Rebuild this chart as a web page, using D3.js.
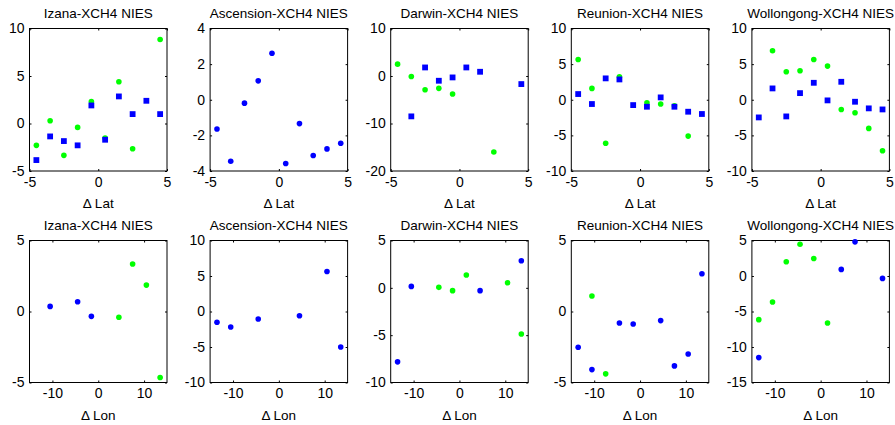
<!DOCTYPE html>
<html>
<head>
<meta charset="utf-8">
<script src="https://cdn.jsdelivr.net/npm/d3@7"></script>
<style>
  body { margin: 0; background: #fff; }
  svg { display: block; font-family: "Liberation Sans", Arial, sans-serif; }
</style>
</head>
<body>
<svg id="chart" width="895" height="425"></svg>
<script>
// grid positions of the cells
const latX = [-4.5, -3.5, -2.5, -1.5, -0.5, 0.5, 1.5, 2.5, 3.5, 4.5]
const lonX = [-13.5, -10.5, -7.5, -4.5, -1.5, 1.5, 4.5, 7.5, 10.5, 13.5]

const sites = ["Izana", "Ascension", "Darwin", "Reunion", "Wollongong"]

// top row: vs latitude
const izanaLatBlue = [-3.85, -1.36, -1.85, -2.30, 1.90, -1.71, 2.85, 0.99, 2.39, 0.99]
const izanaLatGreen = [-2.30, 0.29, -3.35, -0.41, 2.32, -1.53, 4.39, -2.65, null, 8.84]
const ascensionLatBlue = [-1.64, -3.45, -0.19, 1.06, 2.61, -3.58, -1.34, -3.13, -2.76, -2.44]
const ascensionLatGreen = [null, null, null, null, null, null, null, null, null, null]
const darwinLatBlue = [null, -8.5, 1.8, -1.0, -0.3, 1.8, 0.89, null, null, -1.7]
const darwinLatGreen = [2.5, -0.09, -2.9, -2.6, -3.8, null, null, -16.0, null, null]
const reunionLatBlue = [0.8, -0.6, 3.0, 2.85, -0.75, -0.98, 0.33, -0.98, -1.68, -2.0]
const reunionLatGreen = [5.65, 1.59, -6.1, 3.22, null, -0.42, -0.6, -0.84, -5.1, null]
const wollongongLatBlue = [-2.48, 1.59, -2.34, 0.93, 2.38, -0.09, 2.52, -0.28, -1.21, -1.36]
const wollongongLatGreen = [null, 6.87, 3.93, 4.07, 5.65, 4.72, -1.36, -1.82, -4.02, -7.15]

// bottom row: vs longitude
const izanaLonBlue = [null, 0.36, null, 0.69, -0.34, null, null, null, null, null]
const izanaLonGreen = [null, null, null, null, null, null, -0.41, 3.34, 1.86, -4.65]
const ascensionLonBlue = [-1.52, -2.18, null, -1.05, null, null, -0.59, null, 5.64, -4.99]
const ascensionLonGreen = [null, null, null, null, null, null, null, null, null, null]
const darwinLonBlue = [-7.82, 0.15, null, null, null, null, -0.30, null, null, 2.86]
const darwinLonGreen = [null, null, null, 0.05, -0.30, 1.35, null, null, 0.54, -4.87]
const reunionLonBlue = [-2.52, -4.09, null, -0.81, -0.88, null, -0.64, -3.83, -2.99, 2.66]
const reunionLonGreen = [null, 1.09, -4.39, null, null, null, null, null, null, null]
const wollongongLonBlue = [-11.49, null, null, null, null, null, 0.93, 4.81, null, -0.34]
const wollongongLonGreen = [-6.15, -3.67, 2.0, 4.48, 2.47, -6.62, null, null, null, null]

// axis limits and ticks
const latYLim = [[-5, 10], [-4, 4], [-20, 10], [-10, 10], [-10, 10]]
const latYTicks = [[-5, 0, 5, 10], [-4, -2, 0, 2, 4], [-20, -10, 0, 10], [-10, -5, 0, 5, 10], [-10, -5, 0, 5, 10]]
const lonYLim = [[-5, 5], [-10, 10], [-10, 5], [-5, 5], [-15, 5]]
const lonYTicks = [[-5, 0, 5], [-10, -5, 0, 5, 10], [-10, -5, 0, 5], [-5, 0, 5], [-15, -10, -5, 0, 5]]
const latXTicks = [-5, 0, 5]
const lonXTicks = [-10, 0, 10]

const latBlueShape = ["square", "circle", "square", "square", "square"]

const latBlue = [izanaLatBlue, ascensionLatBlue, darwinLatBlue, reunionLatBlue, wollongongLatBlue]
const latGreen = [izanaLatGreen, ascensionLatGreen, darwinLatGreen, reunionLatGreen, wollongongLatGreen]
const lonBlue = [izanaLonBlue, ascensionLonBlue, darwinLonBlue, reunionLonBlue, wollongongLonBlue]
const lonGreen = [izanaLonGreen, ascensionLonGreen, darwinLonGreen, reunionLonGreen, wollongongLonGreen]

const svg = d3.select("#chart")

const boxW = 137.5
const colLeft = i => 29.5 + i * 180.6
const rows = [
  {top: 28.5, bottom: 171, xs: latX, xLim: [-5, 5], xTicks: latXTicks, label: "\u0394 Lat",
   yLim: latYLim, yTicks: latYTicks, blue: latBlue, green: latGreen, shape: latBlueShape},
  {top: 240.5, bottom: 382.5, xs: lonX, xLim: [-15, 15], xTicks: lonXTicks, label: "\u0394 Lon",
   yLim: lonYLim, yTicks: lonYTicks, blue: lonBlue, green: lonGreen, shape: ["circle", "circle", "circle", "circle", "circle"]}
]

const fmt = d => String(d)

rows.forEach(function(row) {
  sites.forEach(function(site, i) {
    const left = colLeft(i)
    const x = d3.scaleLinear().domain(row.xLim).range([left, left + boxW])
    const y = d3.scaleLinear().domain(row.yLim[i]).range([row.bottom, row.top])

    const g = svg.append("g")

    function styleAxis(a) {
      a.select(".domain").remove()
      a.selectAll(".tick line").attr("stroke", "#000")
      a.selectAll(".tick text").attr("fill", "#000").attr("font-size", 14)
    }

    g.append("g")
      .attr("transform", `translate(${left},0)`)
      .call(d3.axisLeft(y).tickValues(row.yTicks[i]).tickSize(-2).tickPadding(5).tickFormat(fmt))
      .call(styleAxis)
    g.append("g")
      .attr("transform", `translate(${left + boxW},0)`)
      .call(d3.axisRight(y).tickValues(row.yTicks[i]).tickSize(-2).tickFormat(""))
      .call(styleAxis)
    g.append("g")
      .attr("transform", `translate(0,${row.bottom})`)
      .call(d3.axisBottom(x).tickValues(row.xTicks).tickSize(-2).tickPadding(6).tickFormat(fmt))
      .call(styleAxis)
    g.append("g")
      .attr("transform", `translate(0,${row.top})`)
      .call(d3.axisTop(x).tickValues(row.xTicks).tickSize(-2).tickFormat(""))
      .call(styleAxis)

    g.append("rect")
      .attr("x", left).attr("y", row.top)
      .attr("width", boxW).attr("height", row.bottom - row.top)
      .attr("fill", "none").attr("stroke", "#000").attr("stroke-width", 1)

    const greenPts = row.xs.map((xv, k) => ({x: xv, y: row.green[i][k]})).filter(d => d.y != null)
    const bluePts = row.xs.map((xv, k) => ({x: xv, y: row.blue[i][k]})).filter(d => d.y != null)

    g.selectAll("circle.green")
      .data(greenPts)
      .join("circle")
        .attr("class", "green")
        .attr("cx", d => x(d.x))
        .attr("cy", d => y(d.y))
        .attr("r", 2.8)
        .attr("fill", "#00ff00")

    if (row.shape[i] === "square") {
      g.selectAll("rect.blue")
        .data(bluePts)
        .join("rect")
          .attr("class", "blue")
          .attr("x", d => x(d.x) - 2.9)
          .attr("y", d => y(d.y) - 2.9)
          .attr("width", 5.8)
          .attr("height", 5.8)
          .attr("fill", "#0000ff")
    } else {
      g.selectAll("circle.blue")
        .data(bluePts)
        .join("circle")
          .attr("class", "blue")
          .attr("cx", d => x(d.x))
          .attr("cy", d => y(d.y))
          .attr("r", 2.8)
          .attr("fill", "#0000ff")
    }

    g.append("text")
      .attr("x", left + boxW / 2)
      .attr("y", row.top - 11)
      .attr("text-anchor", "middle")
      .attr("font-size", 13.5)
      .text(site + "-XCH4 NIES")

    g.append("text")
      .attr("x", left + boxW / 2)
      .attr("y", row.bottom + 37)
      .attr("text-anchor", "middle")
      .attr("font-size", 13.5)
      .text(row.label)
  })
})
</script>
</body>
</html>
